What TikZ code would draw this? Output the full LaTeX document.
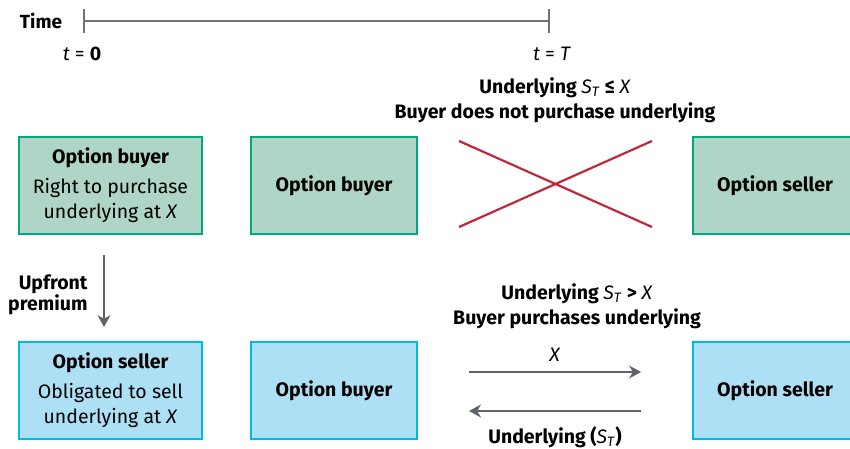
\documentclass[tikz,border=0pt]{standalone}
\usepackage{fontspec}
\setmainfont{Fira Sans}
\usetikzlibrary{arrows.meta, positioning}
\definecolor{buyerfill}{RGB}{175,213,198}
\definecolor{buyerline}{RGB}{0,168,130}
\definecolor{sellerfill}{RGB}{173,224,244}
\definecolor{sellerline}{RGB}{0,187,224}
\definecolor{crosscolor}{RGB}{190,40,58}
\definecolor{arrowgray}{RGB}{96,99,105}
\newcommand{\ST}{{\mdseries\textit{S}\textsubscript{\textit{T}}}}
\newcommand{\XX}{{\mdseries\textit{X}}}

\begin{document}
\begin{tikzpicture}[
    x=1pt, y=-1pt,
    >=Stealth,
    every node/.style={font=\fontsize{19.5}{25}\selectfont},
    partybox/.style={rectangle, draw=#1line, fill=#1fill, line width=2pt,
        minimum height=97pt, inner sep=0pt, align=center,
        font=\fontsize{19.5}{25}\selectfont\bfseries},
    flow/.style={line width=1.6pt, arrowgray,
        -{Stealth[length=12pt, width=13pt]}},
    timeline/.style={line width=1.6pt, arrowgray!90,
        {Bar[width=24pt]}-{Bar[width=24pt]}},
    cross/.style={line width=2.2pt, crosscolor},
    caption/.style={align=center, text=black,
        font=\fontsize{19.5}{25}\selectfont\bfseries},
]
\clip (0,0) rectangle (850,449);

% === TIME AXIS ===
\node[font=\fontsize{19}{20}\selectfont\bfseries] (time) at (41,21) {Time};
\coordinate (tstart) at (83,21);
\coordinate (tend) at (550,21);
\draw[timeline] (tstart) -- (tend);
\node (tzero) at (82,54) {\textit{t} = \textbf{0}};
\node (tmat) at (552,54) {\textit{t} = \textit{T}};

% === AT t = 0 ===
\node[partybox=buyer, minimum width=183pt] (buyer0) at (110.5,185.5)
    {Option buyer\\[5pt]\mdseries Right to purchase\\\mdseries underlying at \textit{X}};
\node[partybox=seller, minimum width=183pt] (seller0) at (110.5,390.5)
    {Option seller\\[5pt]\mdseries Obligated to sell\\\mdseries underlying at \textit{X}};

\draw[flow] ([shift={(-6.5,20)}]buyer0.south) -- ([shift={(-6.5,-14)}]seller0.north);
\node[caption, align=right, anchor=east] (premium) at (91,295) {Upfront\\[-4pt]premium};

% === AT t = T, S_T <= X ===
\node[partybox=buyer, minimum width=166pt] (buyer1) at (334,185.5) {Option buyer};
\node[partybox=buyer, minimum width=164pt] (seller1) at (775,185.5) {Option seller};
\node[caption] (nobuy) at (555,100.5) {Underlying \ST{} ≤ \XX\\Buyer does not purchase underlying};

\coordinate (xa) at (459,141);
\coordinate (xb) at (652,227);
\coordinate (xc) at (459,227);
\coordinate (xd) at (652,141);
\draw[cross] (xa) -- (xb);
\draw[cross] (xc) -- (xd);

% === AT t = T, S_T > X ===
\node[partybox=seller, minimum width=166pt] (buyer2) at (334,390.5) {Option buyer};
\node[partybox=seller, minimum width=164pt] (seller2) at (775,390.5) {Option seller};
\node[caption] (buy) at (577,306) {Underlying \ST{} > \XX\\Buyer purchases underlying};

\draw[flow] ([shift={(51,-18.5)}]buyer2.east) -- node[above=6pt, text=black] (cash) {\textit{X}} ([shift={(-51,-18.5)}]seller2.west);
\draw[flow] ([shift={(-51,20.5)}]seller2.west) -- node[below=12pt, caption] (asset) {Underlying (\ST)} ([shift={(51,20.5)}]buyer2.east);

\end{tikzpicture}
\end{document}
